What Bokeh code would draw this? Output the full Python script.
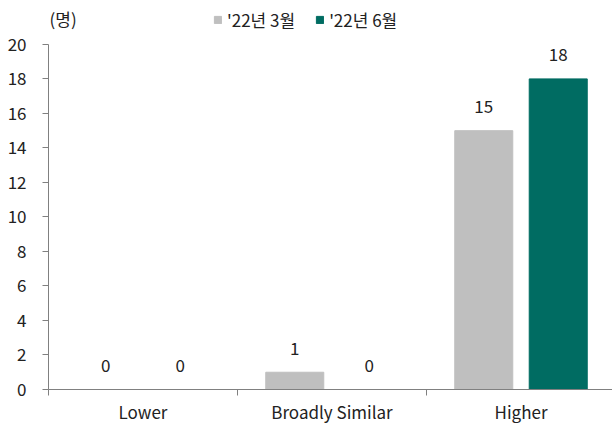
from bokeh.plotting import figure
from bokeh.models import (ColumnDataSource, Range1d, FixedTicker, Legend, LegendItem,
                          Label, LabelSet)
from bokeh.transform import dodge
from bokeh.core.properties import value
from bokeh.embed import file_html
from bokeh.resources import INLINE

categories = ["Lower", "Broadly Similar", "Higher"]
series_names = ["'22년 3월", "'22년 6월"]
mar22 = [0, 1, 15]
jun22 = [0, 0, 18]
y_ticks = [0, 2, 4, 6, 8, 10, 12, 14, 16, 18, 20]
unit_label = "(명)"
colors = ["#BFBFBF", "#006C62"]
FONT = "Noto Sans CJK KR"
FS = "17px"
TXT = "#222222"

xc = [i + 0.5 for i in range(len(categories))]
src = ColumnDataSource(dict(x=xc, mar=mar22, jun=jun22,
                            mar_t=[str(v) for v in mar22], jun_t=[str(v) for v in jun22]))

# layout: frame spans from the canvas top down to the x-axis (so the legend is not
# clipped); the y axis itself is bounded to 0..20. The last category runs slightly
# past the right edge, as in the reference.
frame_w, frame_h, axis_h = 564, 390, 346
cat_px = 189
y_top = 20 * frame_h / axis_h
x_end = frame_w / cat_px
p = figure(width=612, height=426, output_backend="svg", toolbar_location=None,
           x_range=Range1d(0, x_end), y_range=Range1d(0, y_top),
           min_border_left=48, min_border_right=0, min_border_top=0, min_border_bottom=36)
p.outline_line_color = None
p.grid.grid_line_color = None
p.background_fill_color = "white"

w = 0.307
off = 0.197
r1 = p.vbar(x=dodge("x", -off), top="mar", width=w, source=src, color=colors[0])
r2 = p.vbar(x=dodge("x", off), top="jun", width=w, source=src, color=colors[1])

for col, t, o in [("mar", "mar_t", -off), ("jun", "jun_t", off)]:
    p.add_layout(LabelSet(x=dodge("x", o), y=col, text=t, source=src,
                          text_align="center", text_baseline="middle", y_offset=24,
                          text_font=value(FONT), text_font_size=FS, text_color=TXT))

ax = p.xaxis[0]
ax.ticker = FixedTicker(ticks=xc, minor_ticks=list(range(len(categories) + 1)))
ax.major_label_overrides = {x: c for x, c in zip(xc, categories)}
ax.major_tick_line_color = None
ax.minor_tick_line_color = "#808080"
ax.minor_tick_out = 6
ax.minor_tick_in = 0
ax.axis_line_color = "#808080"
ax.major_label_text_font = FONT
ax.major_label_text_font_size = FS
ax.major_label_text_color = TXT
ax.major_label_standoff = 3

ay = p.yaxis[0]
ay.ticker = FixedTicker(ticks=y_ticks)
ay.bounds = (0, 20)
ay.major_tick_out = 6
ay.major_tick_in = 0
ay.minor_tick_line_color = None
ay.major_tick_line_color = "#808080"
ay.axis_line_color = "#808080"
ay.major_label_text_font = FONT
ay.major_label_text_font_size = FS
ay.major_label_text_color = TXT
ay.major_label_standoff = 16

p.add_layout(Label(x=0, y=20, x_offset=1, y_offset=26, text=unit_label,
                   text_baseline="middle", text_font=FONT, text_font_size=FS,
                   text_color=TXT))

legend = Legend(items=[LegendItem(label=series_names[0], renderers=[r1]),
                       LegendItem(label=series_names[1], renderers=[r2])],
                orientation="horizontal", location=(165, 357), border_line_color=None,
                background_fill_alpha=0, label_text_font=FONT, label_text_font_size=FS,
                label_text_color=TXT, glyph_width=9, glyph_height=9,
                label_standoff=5, spacing=20, padding=0, margin=0)
p.add_layout(legend, "center")

open("out.html", "w").write(file_html(p, INLINE))
